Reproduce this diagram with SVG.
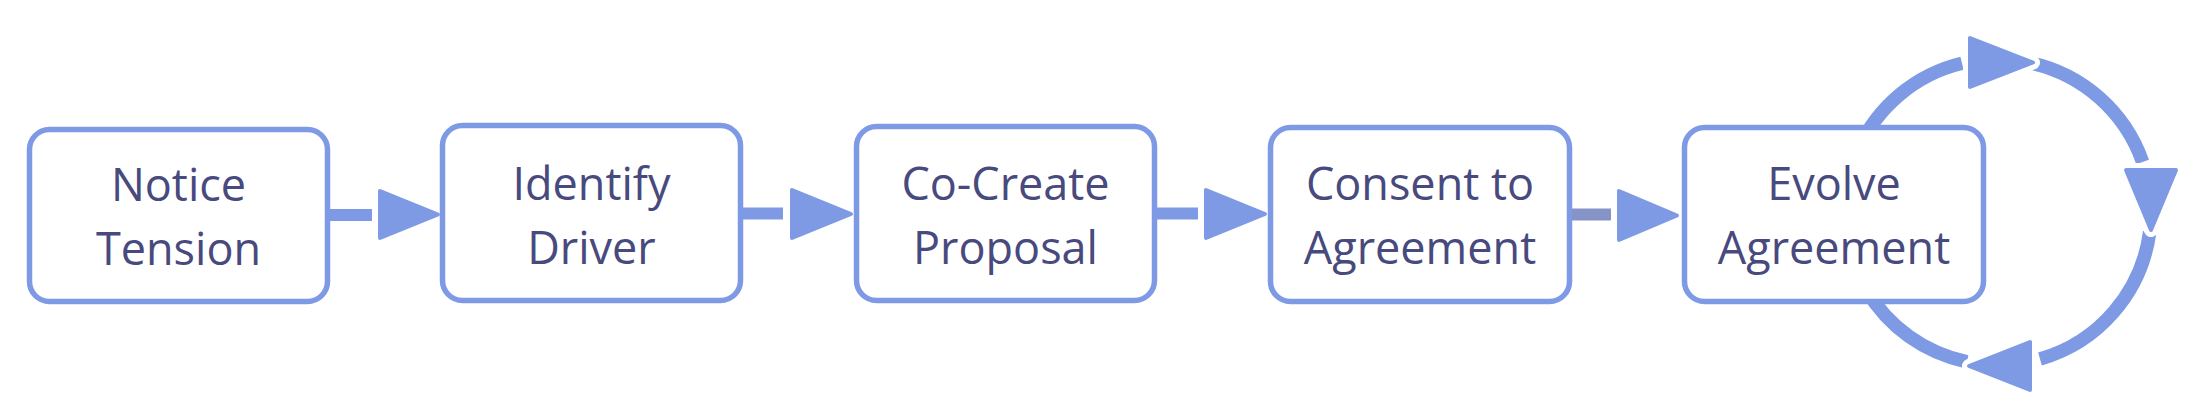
<svg xmlns="http://www.w3.org/2000/svg" width="2200" height="420" viewBox="0 0 2200 420">
<style>
.box{fill:#ffffff;stroke:#7f9ae5;stroke-width:5.5}
.lbl{font-family:"Open Sans","Noto Sans","Liberation Sans",sans-serif;font-size:45px;fill:#484a7e;text-anchor:middle}
.ln{stroke:#7f9ae5;stroke-width:12;fill:none}
.arc{stroke:#7f9ae5;stroke-width:13.5;fill:none}
.head{fill:#7f9ae5;stroke:#7f9ae5;stroke-width:4;stroke-linejoin:round}
.halo{fill:#ffffff;stroke:#ffffff;stroke-width:14;stroke-linejoin:round}
</style>
<rect width="2200" height="420" fill="#ffffff"/>
<g id="connectors">
  <g id="e1">
    <line class="ln" x1="330" y1="215" x2="372" y2="215"/>
    <polygon class="head" points="380,191 380,238 438,214.5"/>
  </g>
  <g id="e2">
    <line class="ln" x1="743" y1="213.5" x2="783" y2="213.5"/>
    <polygon class="head" points="792,190 792,238 851,214"/>
  </g>
  <g id="e3">
    <line class="ln" x1="1157" y1="213.5" x2="1198" y2="213.5"/>
    <polygon class="head" points="1206,190 1206,238 1265,214"/>
  </g>
  <g id="e4">
    <line class="ln" x1="1572" y1="214.5" x2="1611" y2="214.5" style="stroke:#8593c6"/>
    <polygon class="head" points="1619,191 1619,240 1677,215.5"/>
  </g>
  <g id="loop">
    <path class="arc" d="M 1858 150 A 153 153 0 0 1 1962 63.3"/>
    <path class="arc" d="M 2030 62.8 A 153 153 0 0 1 2142.6 162"/>
    <path class="arc" d="M 2149.7 232 A 153 153 0 0 1 2040 359"/>
    <path class="arc" d="M 1967 361.8 A 153 153 0 0 1 1866.4 290"/>
    <polygon class="halo" points="1970,38 1970,87 2033,62.5"/>
    <polygon class="head" points="1970,38 1970,87 2033,62.5"/>
    <polygon class="halo" points="2126,170 2176,170 2151,230"/>
    <polygon class="head" points="2126,170 2176,170 2151,230"/>
    <polygon class="halo" points="2030,342 2030,390 1969,366"/>
    <polygon class="head" points="2030,342 2030,390 1969,366"/>
  </g>
</g>
<g id="n1">
  <rect class="box" x="29.5" y="129.5" width="298" height="172" rx="20"/>
  <text class="lbl" x="178.5" y="200.5">Notice</text>
  <text class="lbl" x="178.5" y="264.5">Tension</text>
</g>
<g id="n2">
  <rect class="box" x="442.5" y="125.5" width="298" height="175" rx="20"/>
  <text class="lbl" x="591.5" y="199.5">Identify</text>
  <text class="lbl" x="591.5" y="263.5">Driver</text>
</g>
<g id="n3">
  <rect class="box" x="856.5" y="126.5" width="298" height="174" rx="20"/>
  <text class="lbl" x="1005.5" y="199.5">Co-Create</text>
  <text class="lbl" x="1005.5" y="263.5">Proposal</text>
</g>
<g id="n4">
  <rect class="box" x="1270.5" y="127.5" width="299" height="174" rx="20"/>
  <text class="lbl" x="1420" y="199.5">Consent to</text>
  <text class="lbl" x="1420" y="263.5">Agreement</text>
</g>
<g id="n5">
  <rect class="box" x="1684.5" y="127.5" width="299" height="174" rx="20"/>
  <text class="lbl" x="1834" y="200">Evolve</text>
  <text class="lbl" x="1834" y="264">Agreement</text>
</g>
</svg>
